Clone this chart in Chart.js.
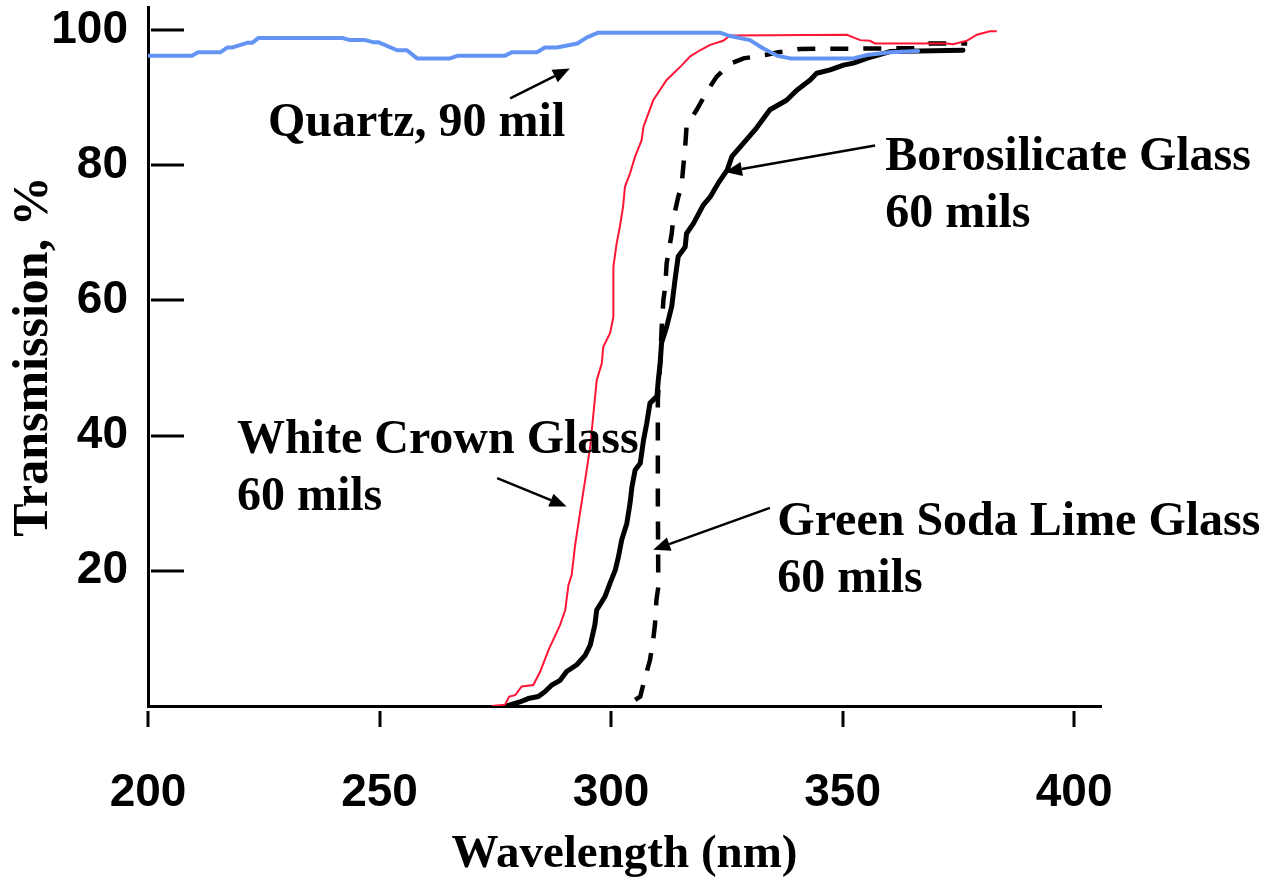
<!DOCTYPE html>
<html>
<head>
<meta charset="utf-8">
<script src="https://cdn.jsdelivr.net/npm/chart.js@4.4.1/dist/chart.umd.min.js"></script>
<style>
  html, body { margin: 0; padding: 0; background: #ffffff; }
  #wrap { width: 1266px; height: 883px; position: relative; }
</style>
</head>
<body>
<div id="wrap"><canvas id="c" width="1266" height="883"></canvas></div>
<script>
// ---------- data ----------
const quartzNm = [200.2,209.5,210.8,215.6,217.1,218.1,221.4,222.5,223.8,242.1,243.6,246.9,248.6,249.7,253.8,255.9,258.1,265.2,267.0,277.1,278.6,284.0,285.7,288.3,292.7,294.8,297.2,323.5,325.7,330.0,332.8,335.9,338.7,352.3,355.3,360.3,366.3];
const quartzT  = [96.2,96.2,96.7,96.7,97.4,97.4,98.1,98.1,98.8,98.8,98.5,98.5,98.2,98.2,97.0,97.0,95.8,95.8,96.2,96.2,96.7,96.7,97.4,97.4,98.0,98.9,99.6,99.6,99.1,98.5,97.3,96.2,95.8,95.8,96.3,96.7,96.9];

const crownNm = [274.2,277.1,278.0,279.3,280.7,283.2,284.7,286.5,289.0,290.1,290.8,291.5,292.2,293.3,294.4,295.5,296.2,296.9,298.0,298.3,299.8,300.5,300.5,301.2,301.9,302.6,303.0,304.1,305.2,306.6,307.0,309.1,312.0,313.5,315.3,317.1,319.2,321.4,324.2,325.7,350.9,353.8,355.9,357.0,372.5,373.9,376.8,379.0,381.8,383.3];
const crownT  = [0.0,0.2,1.4,1.6,2.9,3.1,5.1,8.3,12.0,14.2,17.9,19.4,23.6,28.6,33.4,38.4,43.3,48.2,50.7,53.1,55.2,57.6,65.0,68.4,70.9,73.9,76.8,78.8,81.3,83.7,85.7,89.6,92.6,93.6,94.8,96.1,97.0,97.8,98.4,99.2,99.3,98.5,98.4,98.0,98.0,97.9,98.4,99.3,99.8,99.8];

const boroNm = [277.5,280.3,282.1,284.3,285.7,287.2,289.0,290.4,292.6,294.4,295.5,296.5,296.9,298.7,299.8,300.9,301.6,302.3,303.4,304.1,304.5,305.2,306.3,307.0,307.7,308.4,309.9,310.2,310.6,310.9,312.0,313.1,313.8,314.5,316.0,316.3,317.8,319.9,321.4,323.1,325.1,326.1,327.9,331.4,334.3,337.9,340.1,343.0,344.4,347.3,350.2,352.3,355.2,360.2,376.0];
const boroT  = [0.0,0.6,1.1,1.4,2.1,3.1,3.8,5.1,6.1,7.5,9.0,12.0,14.2,16.2,18.2,20.1,22.1,24.6,27.0,30.0,32.4,34.9,35.9,39.3,41.8,44.8,45.8,48.2,50.7,53.7,56.1,59.1,63.0,66.5,67.9,69.9,71.4,74.1,75.3,77.3,79.3,81.3,82.7,85.5,88.2,89.6,91.1,92.6,93.6,94.1,94.8,95.1,95.8,96.8,97.0];

const sodaNm = [305.2,306.3,307.3,308.4,309.1,309.5,309.8,310.2,310.1,310.1,310.6,310.9,311.3,311.7,312.0,313.1,313.4,314.5,315.2,315.6,316.0,316.3,317.1,318.5,320.7,322.8,325.7,328.6,333.3,336.1,340.8,366.7,368.8,376.9];
const sodaT  = [0.9,1.4,4.1,6.8,9.8,12.2,15.7,17.6,30.5,45.3,50.7,55.6,60.1,62.0,65.5,69.9,71.9,75.3,76.8,79.8,82.7,85.7,86.7,88.2,90.9,93.1,95.0,95.8,96.3,96.7,97.2,97.3,98.0,98.0];

// tick labels
const xTickValues = [200, 250, 300, 350, 400];
const yTickValues = [20, 40, 60, 80, 100];

// text annotations: [text line 1, text line 2], anchor (nm, %)
const labelTexts  = [["Quartz, 90 mil", ""], ["Borosilicate Glass", "60 mils"], ["White Crown Glass", "60 mils"], ["Green Soda Lime Glass", "60 mils"]];
const labelNm     = [225.9, 359.2, 219.2, 335.9];
const labelT      = [84.3, 79.3, 37.4, 25.3];
// arrows: tail (nm, %) -> head (nm, %)
const arrowTailNm = [278.2, 357.0, 275.4, 334.3];
const arrowTailT  = [89.9, 82.9, 33.7, 29.3];
const arrowHeadNm = [291.1, 324.6, 290.4, 309.1];
const arrowHeadT  = [94.3, 79.0, 29.5, 23.1];

// ---------- build ----------
const pts = (xs, ys) => xs.map((v, i) => ({ x: v, y: ys[i] }));

const overlay = {
  id: 'overlay',
  afterDatasetsDraw(chart) {
    const { ctx } = chart;
    const xs = chart.scales.x, ys = chart.scales.y;
    ctx.save();
    ctx.strokeStyle = '#000';
    ctx.fillStyle = '#000';
    ctx.lineWidth = 3;
    // y tick marks (inward)
    yTickValues.forEach(v => {
      const py = Math.round(ys.getPixelForValue(v));
      ctx.beginPath(); ctx.moveTo(xs.left + 3, py); ctx.lineTo(xs.left + 36, py); ctx.stroke();
    });
    // x tick marks (below, detached)
    xTickValues.forEach(v => {
      const px = Math.round(xs.getPixelForValue(v));
      ctx.beginPath(); ctx.moveTo(px, ys.bottom + 5); ctx.lineTo(px, ys.bottom + 21); ctx.stroke();
    });
    // arrows
    ctx.lineWidth = 2.5;
    for (let i = 0; i < arrowTailNm.length; i++) {
      const x0 = xs.getPixelForValue(arrowTailNm[i]), y0 = ys.getPixelForValue(arrowTailT[i]);
      const x1 = xs.getPixelForValue(arrowHeadNm[i]), y1 = ys.getPixelForValue(arrowHeadT[i]);
      const ang = Math.atan2(y1 - y0, x1 - x0);
      const L = 17, W = 7;
      const bx = x1 - L * Math.cos(ang), by = y1 - L * Math.sin(ang);
      ctx.beginPath(); ctx.moveTo(x0, y0); ctx.lineTo(bx, by); ctx.stroke();
      ctx.beginPath();
      ctx.moveTo(x1, y1);
      ctx.lineTo(bx + W * Math.sin(ang), by - W * Math.cos(ang));
      ctx.lineTo(bx - W * Math.sin(ang), by + W * Math.cos(ang));
      ctx.closePath(); ctx.fill();
    }
    // text labels
    ctx.font = 'bold 48px "Liberation Serif", "Times New Roman", serif';
    ctx.textAlign = 'left';
    ctx.textBaseline = 'alphabetic';
    for (let i = 0; i < labelTexts.length; i++) {
      const px = xs.getPixelForValue(labelNm[i]), py = ys.getPixelForValue(labelT[i]);
      ctx.fillText(labelTexts[i][0], px, py);
      if (labelTexts[i][1]) ctx.fillText(labelTexts[i][1], px, py + 57);
    }
    ctx.restore();
  }
};

new Chart(document.getElementById('c'), {
  type: 'line',
  data: {
    datasets: [
      { label: 'Quartz, 90 mil', data: pts(quartzNm, quartzT), borderColor: '#6394F3', borderWidth: 4, pointRadius: 0, tension: 0, borderJoinStyle: 'round', borderCapStyle: 'round' },
      { label: 'White Crown Glass', data: pts(crownNm, crownT), borderColor: '#FF1535', borderWidth: 2, pointRadius: 0, tension: 0 },
      { label: 'Borosilicate Glass', data: pts(boroNm, boroT), borderColor: '#000000', borderWidth: 5, pointRadius: 0, tension: 0, borderJoinStyle: 'round', borderCapStyle: 'round' },
      { label: 'Green Soda Lime Glass', data: pts(sodaNm, sodaT), borderColor: '#000000', borderWidth: 4.5, borderDash: [18, 15], pointRadius: 0, tension: 0 }
    ]
  },
  options: {
    responsive: false,
    animation: false,
    events: [],
    layout: { padding: { top: 7, right: 165, left: 0, bottom: 0 } },
    plugins: { legend: { display: false }, tooltip: { enabled: false } },
    scales: {
      x: {
        type: 'linear', min: 200, max: 405.8,
        afterBuildTicks: s => { s.ticks = xTickValues.map(v => ({ value: v })); },
        afterFit: s => { s.height = 177; s.paddingLeft = 0; s.paddingRight = 0; },
        grid: { display: false },
        border: { display: true, color: '#000', width: 3 },
        ticks: {
          padding: 52, color: '#000', autoSkip: false, maxRotation: 0,
          font: { family: '"Liberation Sans", Arial, sans-serif', size: 46, weight: 'bold' },
          callback: v => String(v)
        },
        title: {
          display: true, text: 'Wavelength (nm)', color: '#000',
          font: { family: '"Liberation Serif", "Times New Roman", serif', size: 47, weight: 'bold' },
          padding: { top: 0, bottom: 0 }
        }
      },
      y: {
        type: 'linear', min: 0, max: 103.4,
        afterBuildTicks: s => { s.ticks = yTickValues.map(v => ({ value: v })); },
        afterFit: s => { s.width = 148; s.paddingTop = 0; s.paddingBottom = 0; },
        grid: { display: false },
        border: { display: true, color: '#000', width: 3 },
        ticks: {
          padding: 12, color: '#000', autoSkip: false,
          font: { family: '"Liberation Sans", Arial, sans-serif', size: 46, weight: 'bold' },
          callback: v => String(v)
        },
        title: {
          display: true, text: 'Transmission, %', color: '#000',
          font: { family: '"Liberation Serif", "Times New Roman", serif', size: 50, weight: 'bold' },
          padding: { top: 4, bottom: 0 }
        }
      }
    }
  },
  plugins: [overlay]
});
</script>
</body>
</html>
